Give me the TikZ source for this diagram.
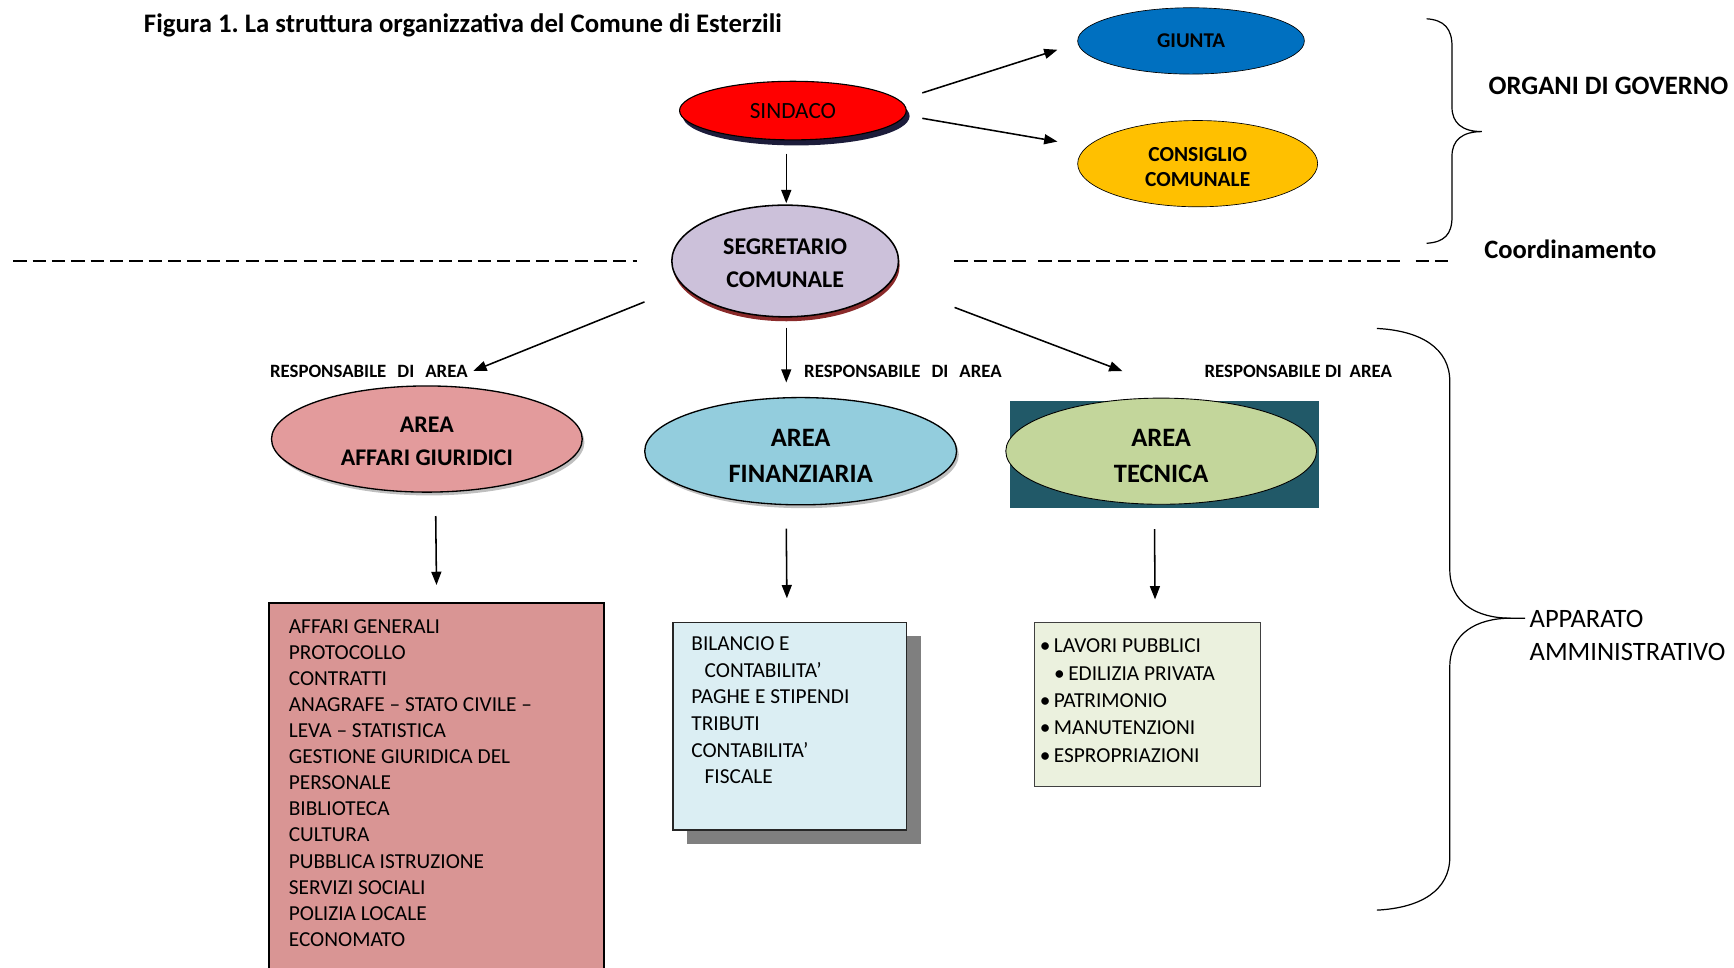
\documentclass[tikz,border=0pt]{standalone}
\usepackage{fontspec}
\setmainfont{Carlito}
\usetikzlibrary{shapes.geometric,arrows.meta,shadows}
\definecolor{cRed}{HTML}{FF0000}
\definecolor{cBlue}{HTML}{0070C0}
\definecolor{cYellow}{HTML}{FFC000}
\definecolor{cLav}{HTML}{CCC1DA}
\definecolor{cPinkE}{HTML}{E39B9C}
\definecolor{cPinkB}{HTML}{D99594}
\definecolor{cCyan}{HTML}{93CDDD}
\definecolor{cTeal}{HTML}{215968}
\definecolor{cGreen}{HTML}{C3D69B}
\definecolor{cIce}{HTML}{DBEEF3}
\definecolor{cPale}{HTML}{EBF1DE}
\definecolor{cShadow}{HTML}{7F7F7F}
\definecolor{cNavy}{HTML}{1C1C3A}
\definecolor{cMaroon}{HTML}{8A2A2A}
\newcommand\fsz[2]{\fontsize{#1}{#2}\selectfont}
\newcommand\lift[1]{\rule{0pt}{#1}}
\frenchspacing
\begin{document}
\begin{tikzpicture}[x=1pt,y=-1pt,
  ell/.style={ellipse, draw=black, line width=1pt, inner sep=0pt, align=center},
  arr/.style={-{Triangle[length=12pt,width=9pt]}, line width=1.4pt},
  dline/.style={line width=2.4pt, dash pattern=on 12pt off 5.5pt},
  brace/.style={line width=1.1pt},
  lbl/.style={font=\bfseries\fsz{17}{20}, inner sep=0pt, anchor=west},
  listtxt/.style={font=\fsz{19.3}{23.6}, inner sep=0pt, anchor=north west, align=left},
  sidetxt/.style={inner sep=0pt, anchor=west}]
\useasboundingbox (0,0) rectangle (1568,875.3);

% title
\node[sidetxt, font=\bfseries\fsz{24.2}{29}] (title) at (130,23) {Figura 1. La struttura organizzativa del Comune di Esterzili};

% governing bodies
\node[ell, fill=cRed, minimum width=205pt, minimum height=53pt, font=\fsz{21}{25},
      drop shadow={shadow xshift=3pt, shadow yshift=-5pt, fill=cNavy, opacity=1}] (sind) at (717,100) {SINDACO};
\node[ell, fill=cBlue, line width=0.6pt, minimum width=205pt, minimum height=60pt, font=\bfseries\fsz{19}{23}] (giunta) at (1077,37) {GIUNTA};
\node[ell, fill=cYellow, line width=0.6pt, minimum width=217pt, minimum height=78pt, font=\bfseries\fsz{19.4}{23}] (cons) at (1083,148) {\lift{18.5pt}CONSIGLIO\\COMUNALE};
\node[ell, fill=cLav, line width=1.4pt, minimum width=205pt, minimum height=101pt, font=\bfseries\fsz{21.7}{30},
      drop shadow={shadow xshift=1pt, shadow yshift=-4pt, fill=cMaroon, opacity=1}] (segr) at (710,236) {\lift{18.5pt}SEGRETARIO\\COMUNALE};

% areas
\node[ell, fill=cPinkE, line width=1.2pt, minimum width=281pt, minimum height=96pt, font=\bfseries\fsz{21.6}{30},
      drop shadow={shadow xshift=2pt, shadow yshift=-3pt, fill=black, opacity=0.25}] (aff) at (386,397) {\lift{18.5pt}AREA\\AFFARI GIURIDICI};
\node[ell, fill=cCyan, line width=1.2pt, minimum width=282pt, minimum height=97pt, font=\bfseries\fsz{24}{33},
      drop shadow={shadow xshift=2pt, shadow yshift=-3pt, fill=black, opacity=0.25}] (fin) at (724,408) {\lift{24.5pt}AREA\\FINANZIARIA};
\node[fill=cTeal, inner sep=0pt, minimum width=280pt, minimum height=96pt] (tecbg) at (1053,411) {};
\node[ell, fill=cGreen, line width=0.8pt, minimum width=281pt, minimum height=96pt, font=\bfseries\fsz{24}{33}] (tec) at (1050,408) {\lift{24.5pt}AREA\\TECNICA};

% responsible labels
\node[lbl] (r1) at (244,336) {RESPONSABILE\hspace{10pt}DI\hspace{10pt}AREA};
\node[lbl] (r2) at (727,336) {RESPONSABILE\hspace{10pt}DI\hspace{10pt}AREA};
\node[lbl] (r3) at (1089,336) {RESPONSABILE DI\hspace{7pt}AREA};

% boxes
\node[fill=cPinkB, inner sep=0pt, minimum width=303pt, minimum height=335pt, anchor=north west] (lbox) at (243,545) {};
\draw[line width=1.8pt] (lbox.south west) -- (lbox.north west) -- (lbox.north east) -- (lbox.south east);
\node[listtxt] (ltext) at (261,559.8) {AFFARI GENERALI\\PROTOCOLLO\\CONTRATTI\\ANAGRAFE – STATO CIVILE –\\LEVA – STATISTICA\\GESTIONE GIURIDICA DEL\\PERSONALE\\BIBLIOTECA\\CULTURA\\PUBBLICA ISTRUZIONE\\SERVIZI SOCIALI\\POLIZIA LOCALE\\ECONOMATO};

\node[fill=cIce, draw=black!85, line width=1.1pt, inner sep=0pt, minimum width=211pt, minimum height=188pt, anchor=north west,
      drop shadow={shadow xshift=13pt, shadow yshift=-13pt, fill=cShadow, opacity=1}] (mbox) at (608,562) {};
\node[listtxt, font=\fsz{19.3}{24}] (mtext) at (625,575.8) {BILANCIO E\\\hspace{12pt}CONTABILITA’\\PAGHE E STIPENDI\\TRIBUTI\\CONTABILITA’\\\hspace{12pt}FISCALE};

\node[fill=cPale, draw=black!75, line width=0.9pt, inner sep=0pt, minimum width=204pt, minimum height=149pt, anchor=north west] (rbox) at (935,562) {};
\node[listtxt, font=\fsz{19.3}{24.8}] (rtext) at (940,577.5) {•\,LAVORI PUBBLICI\\\hspace{13pt}•\,EDILIZIA PRIVATA\\•\,PATRIMONIO\\•\,MANUTENZIONI\\•\,ESPROPRIAZIONI};

% arrows
\draw[arr] ([shift={(14,-16)}]sind.east) -- ([shift={(-18,8)}]giunta.west);
\draw[arr] ([shift={(14,7)}]sind.east) -- ([shift={(-18,-20)}]cons.west);
\draw[arr] ([shift={(-6,12)}]sind.south) -- ([shift={(1,-1)}]segr.north);
\draw[arr] ([shift={(-24,37)}]segr.west) -- ([shift={(42,-13)}]aff.north);
\draw[arr] ([shift={(1,9)}]segr.south) -- ([shift={(-13,-13)}]fin.north);
\draw[arr] ([shift={(50,42)}]segr.east) -- ([shift={(-35,-24)}]tec.north);
\draw[arr] ([shift={(8,21)}]aff.south) -- ([shift={(0,-16)}]lbox.north);
\draw[arr] ([shift={(-13,21)}]fin.south) -- ([shift={(-2.5,-21)}]mbox.north);
\draw[arr] ([shift={(-6,22)}]tec.south) -- ([shift={(7,-20)}]rbox.north);

% dashed separator
\draw[dline] (12,236) -- (576,236);
\draw[dline] (863,236) -- (930,236);
\draw[dline] (939,236) -- (1268,236);
\draw[dline] (1280,236) -- (1310,236);

% braces
\draw[brace] (1290,17) .. controls (1306,18) and (1313,26) .. (1313,42) -- (1313,97)
  .. controls (1313,111) and (1322,119) .. (1340,119)
  .. controls (1322,119) and (1313,127) .. (1313,141) -- (1313,196)
  .. controls (1313,212) and (1306,219) .. (1290,220);
\draw[brace] (1245,297) .. controls (1285,299) and (1311,315) .. (1311,345) -- (1311,515)
  .. controls (1311,545) and (1335,559) .. (1366,559) -- (1379,559);
\draw[brace] (1366,559) .. controls (1335,559) and (1311,573) .. (1311,603) -- (1311,775)
  .. controls (1311,805) and (1285,821) .. (1245,823);

% side labels
\node[sidetxt, font=\bfseries\fsz{24}{29}] (org) at (1346,78) {ORGANI DI GOVERNO};
\node[sidetxt, font=\bfseries\fsz{24}{29}] (coord) at (1342,225) {Coordinamento};
\node[sidetxt, font=\fsz{24}{30}, align=left] (app) at (1383,575) {APPARATO\\AMMINISTRATIVO};
\end{tikzpicture}
\end{document}
